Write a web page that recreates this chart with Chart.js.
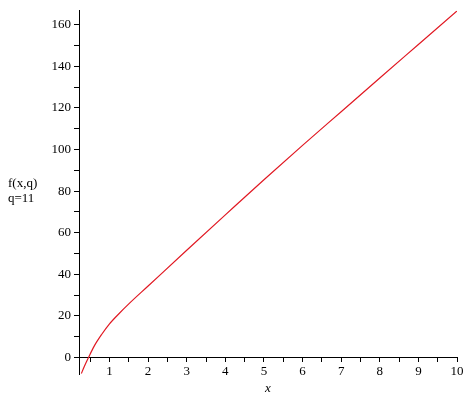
<!DOCTYPE html>
<html>
<head>
<meta charset="utf-8">
<script src="https://cdn.jsdelivr.net/npm/chart.js@4"></script>
<style>
  html, body { margin: 0; padding: 0; background: #fff; }
  #wrap { width: 470px; height: 400px; }
</style>
</head>
<body>
<div id="wrap"><canvas id="grafico" width="470" height="400"></canvas></div>
<script>
// values
const xValues = [0.27, 0.35, 0.456, 0.6, 0.8, 1, 1.25, 1.5, 2, 3, 4, 5, 6, 7, 8, 9, 10];
const yValues = [-7.7, -4.2, 0, 5.4, 11.2, 16.2, 21.2, 25.8, 34.4, 51.6, 68.6, 85.5, 102, 118.2, 134.4, 150.5, 166.6];
const xTickLabels = [1, 2, 3, 4, 5, 6, 7, 8, 9, 10];
const yTickLabels = [0, 20, 40, 60, 80, 100, 120, 140, 160];
const yTitleLines = ["f(x,q)", "q=11"];

const serif = "'Liberation Serif', 'DejaVu Serif', serif";

// horizontal y-axis caption at the left
const yCaption = {
  id: 'yCaption',
  afterDraw(chart) {
    const ctx = chart.ctx;
    ctx.save();
    ctx.fillStyle = '#000';
    ctx.font = '13px ' + serif;
    ctx.textAlign = 'left';
    ctx.textBaseline = 'alphabetic';
    yTitleLines.forEach((t, i) => ctx.fillText(t, 8, 187 + i * 15));
    ctx.restore();
  }
};

const points = xValues.map((x, i) => ({ x: x, y: yValues[i] }));

new Chart(document.getElementById('grafico').getContext('2d'), {
  type: 'line',
  data: {
    datasets: [{
      data: points,
      borderColor: 'rgb(225, 25, 35)',
      borderWidth: 1.2,
      pointRadius: 0,
      cubicInterpolationMode: 'monotone',
      fill: false
    }]
  },
  options: {
    responsive: false,
    animation: false,
    layout: { padding: { top: 9, right: 13, bottom: 26, left: 0 } },
    plugins: { legend: { display: false }, tooltip: { enabled: false } },
    scales: {
      x: {
        type: 'linear',
        min: 0.21,
        max: 10,
        position: { y: 0 },
        grid: { drawOnChartArea: false, drawTicks: true, tickLength: 4, tickColor: '#000' },
        border: { display: true, color: '#000', width: 1 },
        ticks: {
          stepSize: 0.5,
          includeBounds: false,
          autoSkip: false,
          maxRotation: 0,
          padding: 2,
          color: '#000',
          font: { family: serif, size: 13 },
          callback: v => xTickLabels.includes(v) ? String(v) : ''
        },
        title: { display: true, text: 'x', color: '#000', padding: 0, font: { family: serif, size: 13, style: 'italic' } }
      },
      y: {
        type: 'linear',
        min: -7.9,
        max: 166.7,
        position: 'left',
        afterFit: s => { s.width = 79; },
        grid: { drawOnChartArea: false, drawTicks: true, tickLength: 5, tickColor: '#000' },
        border: { display: true, color: '#000', width: 1 },
        ticks: {
          stepSize: 10,
          includeBounds: false,
          autoSkip: false,
          padding: 3,
          color: '#000',
          font: { family: serif, size: 13 },
          callback: v => yTickLabels.includes(v) ? String(v) : ''
        }
      }
    }
  },
  plugins: [yCaption]
});
</script>
</body>
</html>
